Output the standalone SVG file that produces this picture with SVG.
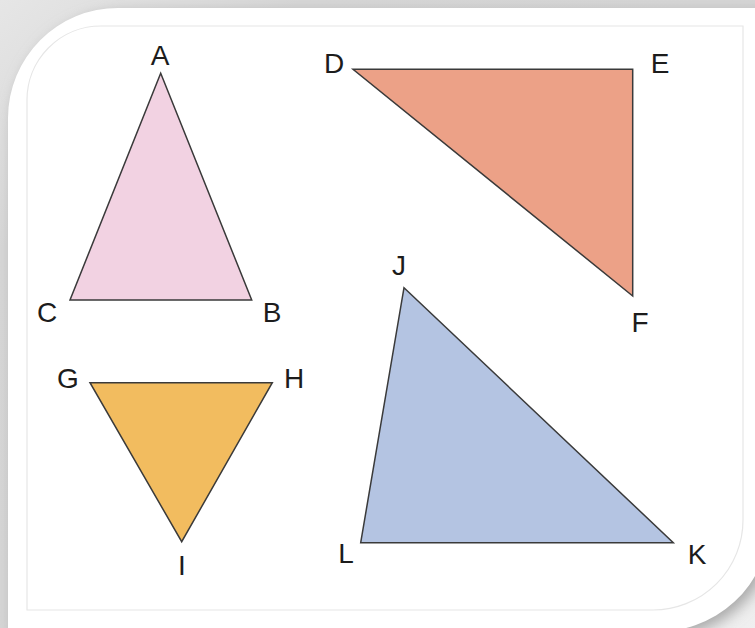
<svg xmlns="http://www.w3.org/2000/svg" width="755" height="628" viewBox="0 0 755 628">
<style>
.lbl{font-family:"Liberation Sans","Noto Sans",Arial,sans-serif;font-size:28px;fill:#1c1c1c;text-anchor:middle}
.tri{stroke:#3a3a3a;stroke-width:1.5;stroke-linejoin:miter}
</style>
<defs>
<linearGradient id="bg" x1="0" y1="0" x2="1" y2="1">
<stop offset="0" stop-color="#e6e6e6"/>
<stop offset="0.2" stop-color="#d6d6d6"/>
<stop offset="0.75" stop-color="#d4d4d4"/>
<stop offset="1" stop-color="#f0f0f0"/>
</linearGradient>
<filter id="sh" x="-10%" y="-10%" width="130%" height="130%">
<feGaussianBlur stdDeviation="7"/>
</filter>
<path id="frame" d="M8,640 V118 A110,110 0 0 1 118,8 H770 V520 A111,111 0 0 1 650,631 H8 Z"/>
</defs>
<g id="background">
<rect width="755" height="628" fill="url(#bg)"/>
<use href="#frame" fill="#a9a9a9" transform="translate(5,5)" filter="url(#sh)"/>
<use href="#frame" fill="#ffffff"/>
<path d="M27,610 V101 A74,74 0 0 1 101,26 H743 V520 A90,90 0 0 1 653,610 Z" fill="none" stroke="#e6e6e6" stroke-width="1.2"/>
</g>
<g id="triangle-ABC">
<polygon class="tri" points="160.7,73.3 251.7,300 70,300" fill="#f2d2e2"/>
<text class="lbl" x="160" y="65">A</text>
<text class="lbl" x="272" y="322">B</text>
<text class="lbl" x="47" y="322">C</text>
</g>
<g id="triangle-DEF">
<polygon class="tri" points="353,69.3 632.7,69.3 632.7,296" fill="#eca187"/>
<text class="lbl" x="334" y="73">D</text>
<text class="lbl" x="660" y="73">E</text>
<text class="lbl" x="640" y="332">F</text>
</g>
<g id="triangle-GHI">
<polygon class="tri" points="90,382.7 272.3,382.7 181.7,541.7" fill="#f2bc5f"/>
<text class="lbl" x="68" y="388">G</text>
<text class="lbl" x="294" y="388">H</text>
<text class="lbl" x="182" y="575">I</text>
</g>
<g id="triangle-JKL">
<polygon class="tri" points="404,287.7 673.3,542.7 360.7,542.7" fill="#b4c4e2"/>
<text class="lbl" x="399" y="275">J</text>
<text class="lbl" x="697" y="564">K</text>
<text class="lbl" x="346" y="563">L</text>
</g>
</svg>
